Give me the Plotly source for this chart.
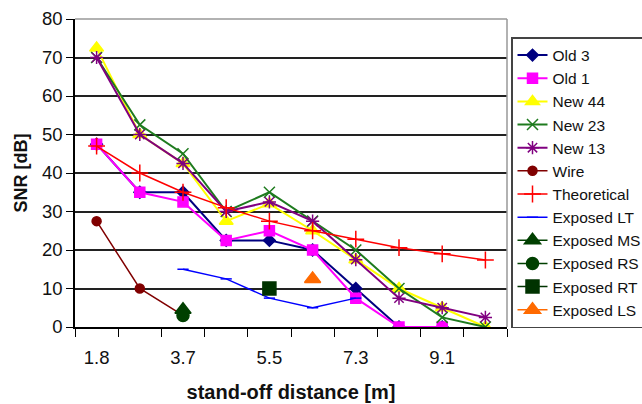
import plotly.graph_objects as go

categories = ["1.8", "2.7", "3.7", "4.6", "5.5", "6.4", "7.3", "8.2", "9.1", "10.0"]
tick_labels = ["1.8", "", "3.7", "", "5.5", "", "7.3", "", "9.1", ""]

old3 = [47.5, 35, 35, 22.5, 22.5, 20, 10, 0, 0, None]
old1 = [47.5, 35, 32.5, 22.5, 25, 20, 7.5, 0, 0, None]
new44 = [72.5, 50, 42.5, 27.5, 32, 25, 17.5, 10, 5, 0]
new23 = [70, 52.5, 45, 30, 35, 27.5, 20, 10, 2.5, 0]
new13 = [70, 50, 42.5, 30, 32.5, 27.5, 17.5, 7.5, 5, 2.5]
wire = [27.5, 10, 3, None, None, None, None, None, None, None]
theoretical = [47, 40, 35, 31, 27.5, 25, 22.8, 20.6, 19, 17.4]
exposed_lt = [None, None, 15, 12.5, 7.5, 5, 7.5, None, None, None]
exposed_ms = [None, None, 4.5, None, None, None, None, None, None, None]
exposed_rs = [None, None, 3, None, None, None, None, None, None, None]
exposed_rt = [None, None, None, None, 10, None, None, None, None, None]
exposed_ls = [None, None, None, None, None, 12.5, None, None, None, None]

xs = list(range(len(categories)))

series = [
    ("Old 3", old3, "#000080", "diamond", 9, 2),
    ("Old 1", old1, "#FF00FF", "square", 10, 2),
    ("New 44", new44, "#FFFF00", "triangle-up", 12, 2),
    ("New 23", new23, "#1E7B1E", "x-thin-open", 11, 2),
    ("New 13", new13, "#800080", "asterisk-open", 11, 2),
    ("Wire", wire, "#800000", "circle", 9, 1.5),
    ("Theoretical", theoretical, "#FF0000", "cross-thin-open", 12, 1.5),
    ("Exposed LT", exposed_lt, "#0000FF", "line-ew-open", 8, 1.5),
    ("Exposed MS", exposed_ms, "#004000", "triangle-up", 14, 1.5),
    ("Exposed RS", exposed_rs, "#004000", "circle", 12, 1.5),
    ("Exposed RT", exposed_rt, "#003300", "square", 13, 1.5),
    ("Exposed LS", exposed_ls, "#FF6A00", "triangle-up", 14, 1.5),
]

fig = go.Figure()
for name, vals, color, sym, size, lw in series:
    fig.add_trace(go.Scatter(
        x=xs, y=vals, name=name, mode="lines+markers",
        line=dict(color=color, width=lw),
        marker=dict(symbol=sym, size=size, color=color,
                    line=dict(color=color, width=1.5)),
        connectgaps=False,
    ))

W, H = 642, 404
fig.update_layout(
    width=W, height=H,
    margin=dict(l=75, r=135, t=19, b=77, autoexpand=False),
    plot_bgcolor="white", paper_bgcolor="white",
    font=dict(family="Liberation Sans, Arial", color="#111"),
    showlegend=True,
    legend=dict(xref="container", yref="container",
                x=511 / W, y=1 - 37 / H, xanchor="left", yanchor="top",
                bordercolor="#444", borderwidth=1.5, bgcolor="white",
                font=dict(size=15.5), itemwidth=30, tracegroupgap=0,
                maxheight=390),
)
fig.update_xaxes(
    range=[-0.5, 9.5], tickvals=xs, ticktext=tick_labels,
    ticks="outside", ticklen=13, tickcolor="rgba(0,0,0,0)",
    tickfont=dict(size=18.5),
    showline=True, linecolor="black", linewidth=1.5, mirror=False,
    showgrid=False, zeroline=False, automargin=False,
    minor=dict(tickvals=[i + 0.5 for i in range(-1, 10)], ticks="outside",
               ticklen=8, tickcolor="black", tickwidth=1.2, showgrid=False),
    title=dict(text="<b>stand-off distance [m]</b>", font=dict(size=20), standoff=18),
)
fig.update_yaxes(
    range=[0, 80], dtick=10, ticks="outside", ticklen=7, tickcolor="black",
    tickwidth=1.2, tickfont=dict(size=18.5),
    showline=True, linecolor="black", linewidth=1.5, automargin=False,
    showgrid=True, gridcolor="#222", gridwidth=1.5, zeroline=False,
    title=dict(text="<b>SNR [dB]</b>", font=dict(size=18), standoff=10),
)
fig.add_shape(type="line", xref="paper", yref="paper", x0=0, x1=1, y0=1, y1=1,
              line=dict(color="#999", width=1.5), layer="above")
fig.add_shape(type="line", xref="paper", yref="paper", x0=1, x1=1, y0=0, y1=1,
              line=dict(color="#999", width=1.5), layer="above")

fig.write_html(
    "out.html",
    config={"displayModeBar": False},
    post_script="document.body.style.margin='0';document.body.style.overflow='hidden';",
)
